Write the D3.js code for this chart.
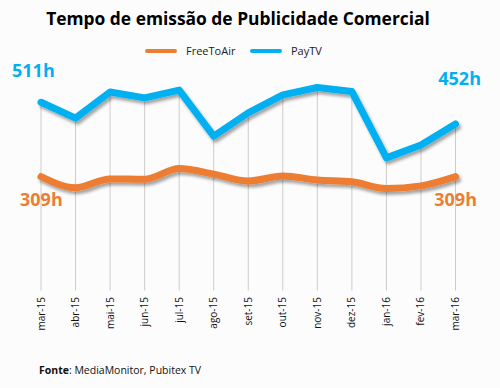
<!DOCTYPE html>
<html>
<head>
<meta charset="utf-8">
<script src="https://cdn.jsdelivr.net/npm/d3@7/dist/d3.min.js"></script>
<style>
  body { margin: 0; background: #fcfcfc; }
  svg { display: block; font-family: "Open Sans", sans-serif; }
</style>
</head>
<body>
<div id="grafico"></div>
<script>
var meses = ["mar-15", "abr-15", "mai-15", "jun-15", "jul-15", "ago-15", "set-15", "out-15", "nov-15", "dez-15", "jan-16", "fev-16", "mar-16"];
var freeToAir = [309, 279, 303, 302, 331, 316, 297, 311, 300, 295, 277, 284, 309];
var payTV = [511, 468, 539, 523, 544, 419, 482, 531, 551, 540, 360, 395, 452];

var largura = 500, altura = 388;
var corAzul = "#00b0f0", corLaranja = "#ed7d31";

var svg = d3.select("#grafico").append("svg").attr("width", largura).attr("height", altura);

// sombra das linhas
var defs = svg.append("defs");
var filtro = defs.append("filter").attr("id", "sombra")
    .attr("x", "-10%").attr("y", "-20%").attr("width", "130%").attr("height", "160%");
filtro.append("feDropShadow")
    .attr("dx", 2).attr("dy", 3).attr("stdDeviation", 1.5)
    .attr("flood-color", "#000").attr("flood-opacity", 0.35);

var x = d3.scalePoint().domain(meses).range([41, 455.5]);
var y = d3.scaleLinear().domain([0, 600]).range([290.5, 69.5]);

// titulo
svg.append("text")
    .attr("x", 238).attr("y", 25)
    .attr("text-anchor", "middle")
    .attr("font-size", 17.4).attr("font-weight", "bold").attr("fill", "#000")
    .text("Tempo de emissão de Publicidade Comercial");

// legenda
var legenda = [["FreeToAir", corLaranja, 147], ["PayTV", corAzul, 252]];
legenda.forEach(function(l) {
    svg.append("line")
        .attr("x1", l[2]).attr("x2", l[2] + 28).attr("y1", 51).attr("y2", 51)
        .attr("stroke", l[1]).attr("stroke-width", 4).attr("stroke-linecap", "round");
    svg.append("text")
        .attr("x", l[2] + 39).attr("y", 55)
        .attr("font-size", 11).attr("fill", "#222")
        .text(l[0]);
});

// linhas verticais (do valor PayTV até zero)
svg.append("g").selectAll("line").data(meses).enter().append("line")
    .attr("x1", function(d) { return x(d); })
    .attr("x2", function(d) { return x(d); })
    .attr("y1", function(d, i) { return y(payTV[i]); })
    .attr("y2", y(0))
    .attr("stroke", "#cccccc").attr("stroke-width", 1);

// eixo x
svg.append("g").selectAll("text").data(meses).enter().append("text")
    .attr("transform", function(d) { return "translate(" + x(d) + ",297) rotate(-90)"; })
    .attr("dy", "0.35em")
    .attr("text-anchor", "end")
    .attr("font-size", 10).attr("fill", "#111")
    .text(function(d) { return d; });

var linhaLaranja = d3.line()
    .x(function(d, i) { return x(meses[i]); })
    .y(function(d) { return y(d); })
    .curve(d3.curveMonotoneX);

var linhaAzul = d3.line()
    .x(function(d, i) { return x(meses[i]); })
    .y(function(d) { return y(d); });

svg.append("path")
    .attr("d", linhaLaranja(freeToAir))
    .attr("fill", "none").attr("stroke", corLaranja).attr("stroke-width", 7)
    .attr("stroke-linecap", "round").attr("stroke-linejoin", "round")
    .attr("filter", "url(#sombra)");

svg.append("path")
    .attr("d", linhaAzul(payTV))
    .attr("fill", "none").attr("stroke", corAzul).attr("stroke-width", 7)
    .attr("stroke-linecap", "round").attr("stroke-linejoin", "round")
    .attr("filter", "url(#sombra)");

// rotulos de valor
var n = meses.length - 1;
var rotulos = [
    [payTV[0] + "h", corAzul, 12, 77, "start"],
    [payTV[n] + "h", corAzul, 481, 85, "end"],
    [freeToAir[0] + "h", corLaranja, 20, 206, "start"],
    [freeToAir[n] + "h", corLaranja, 477, 206, "end"]
];
rotulos.forEach(function(r) {
    svg.append("text")
        .attr("x", r[2]).attr("y", r[3])
        .attr("text-anchor", r[4])
        .attr("font-size", 18).attr("font-weight", "bold").attr("fill", r[1])
        .text(r[0]);
});

// fonte
var fonte = svg.append("text")
    .attr("x", 39).attr("y", 374)
    .attr("font-size", 10.5).attr("fill", "#111");
fonte.append("tspan").attr("font-weight", "bold").text("Fonte");
fonte.append("tspan").text(": MediaMonitor, Pubitex TV");
</script>
</body>
</html>
